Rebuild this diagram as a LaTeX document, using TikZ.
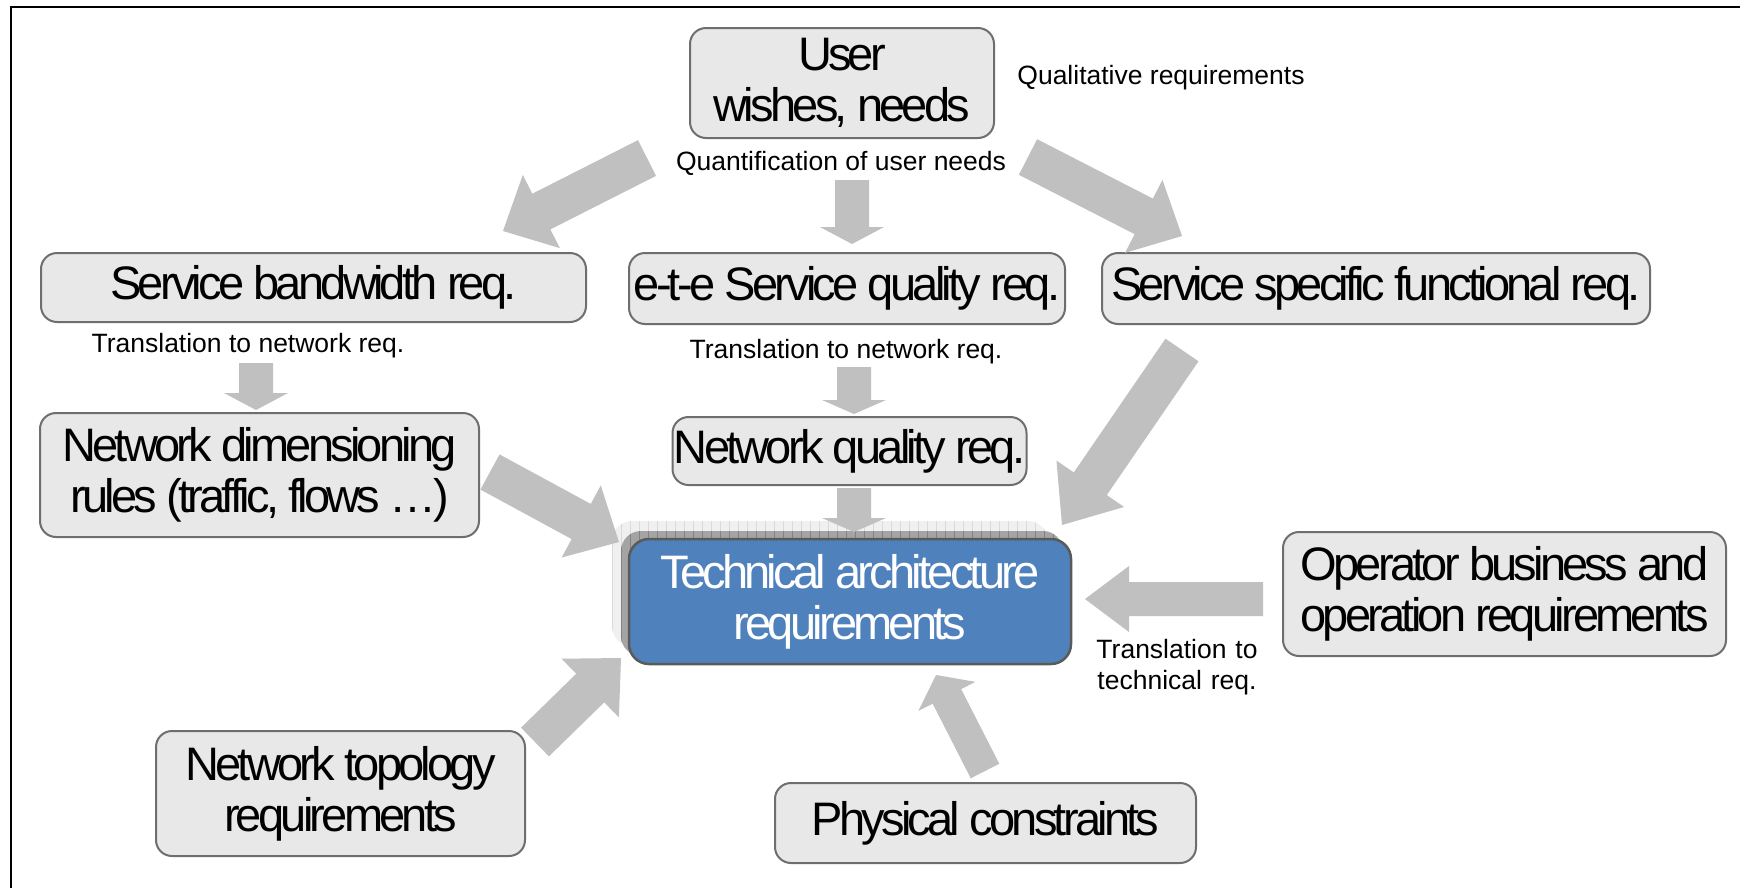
\documentclass[tikz,border=0pt]{standalone}
\usepackage{fontspec}
\setmainfont{Liberation Sans}
\newfontfamily\tightfam{Liberation Sans}[LetterSpace=-8]
\usetikzlibrary{calc}

\definecolor{boxfill}{HTML}{E8E8E8}
\definecolor{boxline}{HTML}{6E6E6E}
\definecolor{arrowgray}{HTML}{C0C0C0}
\definecolor{techblue}{HTML}{4F81BD}
\definecolor{techline}{HTML}{5A5A5A}
\definecolor{halofill}{HTML}{F0F0F0}
\definecolor{halogrid}{HTML}{DADADA}
\definecolor{shadefill}{HTML}{A4A4A4}
\definecolor{shadegrid}{HTML}{828282}

\newcommand\bigtext{\tightfam\fontsize{47}{51}\selectfont}
\newcommand\smalltext{\fontsize{26.5}{31}\selectfont}

% block arrow: tail, tip, half shaft width, half head width, head length
\newcommand\blockarrow[5]{%
  \path ($(#2)!#5!(#1)$) coordinate (hb);
  \fill[arrowgray] ($(#1)!#3!90:(#2)$) -- ($(hb)!#3!90:(#2)$)
    -- ($(hb)!#4!90:(#2)$) -- (#2) -- ($(hb)!#4!-90:(#2)$)
    -- ($(hb)!#3!-90:(#2)$) -- ($(#1)!#3!-90:(#2)$) -- cycle;}

\tikzset{
  reqbox/.style={draw=boxline, line width=2pt, fill=boxfill,
    rounded corners=16, inner sep=0pt, align=center, font=\bigtext},
  techbox/.style={draw=techline, line width=2.5pt, fill=techblue,
    rounded corners=20, inner sep=0pt, align=center, font=\bigtext,
    text=white},
  lbl/.style={inner sep=0pt, align=center, font=\smalltext}
}

\begin{document}
\begin{tikzpicture}[x=1pt,y=-1pt]
\useasboundingbox (0,0) rectangle (1740,887);
\fill[white] (0,0) rectangle (1740,887);

% outer frame (runs off the right and bottom edges)
\draw[line width=2.5pt] (1745,7) -- (11,7) -- (11,895);

% shadow of the central box
\begin{scope}
  \clip[rounded corners=20] (612,521) rectangle (1048,646);
  \fill[halofill] (600,510) rectangle (1060,660);
  \draw[halogrid, line width=0.7pt] (600,510) grid[step=9] (1060,660);
\end{scope}
\begin{scope}
  \clip[rounded corners=20] (621,531) rectangle (1063,656);
  \fill[shadefill] (600,510) rectangle (1070,660);
  \draw[shadegrid, line width=0.7pt] (600,510) grid[step=9] (1070,660);
\end{scope}

% requirement boxes
\node[reqbox, minimum width=304, minimum height=110] (user) at (842,83)
  {User\\wishes, needs};
\node[reqbox, minimum width=545, minimum height=69] (bw) at (313.5,287.5)
  {Service bandwidth req.};
\node[reqbox, minimum width=436, minimum height=71] (ete) at (847,288.5)
  {e-t-e Service quality req.};
\node[reqbox, minimum width=548, minimum height=71] (spec) at (1376,288.5)
  {Service specific functional req.};
\node[reqbox, minimum width=439, minimum height=124] (netdim) at (259.5,475)
  {Network dimensioning\\rules (traffic, flows …)};
\node[reqbox, minimum width=354, minimum height=68] (netq) at (849.5,451)
  {Network quality req.};
\node[techbox, minimum width=442, minimum height=125] (tech) at (850,601.5)
  {Technical architecture\\requirements};
\node[reqbox, minimum width=443, minimum height=124] (op) at (1504.5,594)
  {Operator business and\\operation requirements};
\node[reqbox, minimum width=369, minimum height=125] (topo) at (340.5,793.5)
  {Network topology\\requirements};
\node[reqbox, minimum width=421, minimum height=80] (phys) at (985.5,823)
  {Physical constraints};

% annotations
\node[lbl, anchor=base] (qual) at (1161,84) {Qualitative requirements};
\node[lbl, anchor=base] (quant) at (841,170) {Quantification of user needs};
\node[lbl, anchor=base] (trl) at (248,352) {Translation to network req.};
\node[lbl, anchor=base] (trc) at (846,358) {Translation to network req.};
\node[lbl, anchor=base, text width=200] (trt) at (1177,658)
  {Translation to\\technical req.};

% arrow end points
\coordinate (a1t) at (647,158);  \coordinate (a1h) at (503,231);
\coordinate (a2t) at (852,180);  \coordinate (a2h) at (852,244);
\coordinate (a3t) at (1028,157); \coordinate (a3h) at (1182,236);
\coordinate (a4t) at (256,363);  \coordinate (a4h) at (256,410);
\coordinate (a5t) at (854,367);  \coordinate (a5h) at (854,414);
\coordinate (a6t) at (490,472);  \coordinate (a6h) at (619,542);
\coordinate (a7t) at (854,488);  \coordinate (a7h) at (854,532);
\coordinate (a8t) at (1182,350); \coordinate (a8h) at (1062,525);
\coordinate (a9t) at (1263,599); \coordinate (a9h) at (1085,599);
\coordinate (a10t) at (535,742); \coordinate (a10h) at (621,658);
\coordinate (a11t) at (985,771); \coordinate (a11h) at (936,675);

% user -> first level
\blockarrow{a1t}{a1h}{20pt}{41pt}{43pt}
\blockarrow{a2t}{a2h}{17pt}{32pt}{17pt}
\blockarrow{a3t}{a3h}{20pt}{41pt}{43pt}
% first level -> second level
\blockarrow{a4t}{a4h}{17pt}{32pt}{17pt}
\blockarrow{a5t}{a5h}{17pt}{32pt}{14pt}
% everything -> technical architecture
\blockarrow{a6t}{a6h}{20pt}{41pt}{43pt}
\blockarrow{a7t}{a7h}{17pt}{32pt}{14pt}
\blockarrow{a8t}{a8h}{20pt}{41pt}{50pt}
\blockarrow{a9t}{a9h}{17pt}{33pt}{44pt}
\blockarrow{a10t}{a10h}{20pt}{41pt}{43pt}
\blockarrow{a11t}{a11h}{16pt}{32pt}{24pt}
\end{tikzpicture}
\end{document}
